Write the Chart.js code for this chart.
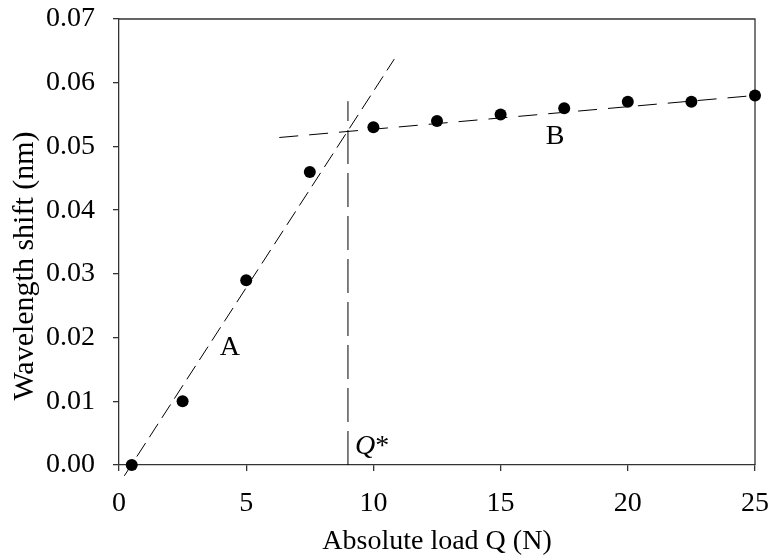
<!DOCTYPE html>
<html><head><meta charset="utf-8">
<script src="https://cdn.jsdelivr.net/npm/chart.js@4/dist/chart.umd.min.js"></script>
<style>html,body{margin:0;padding:0;background:#fff;overflow:hidden}#wrap{width:769px;height:556px}</style>
</head><body><div id="wrap"><canvas id="c" width="769" height="556"></canvas></div>
<script>
// ---- data ----
const loadQ = [0.5, 2.5, 5, 7.5, 10, 12.5, 15, 17.5, 20, 22.5, 25];
const shift = [0.000, 0.010, 0.029, 0.046, 0.053, 0.054, 0.055, 0.056, 0.057, 0.057, 0.058];
const fitA_x = [0.21, 10.82];
const fitA_y = [-0.0017, 0.0637];
const fitB_x = [6.3, 25];
const fitB_y = [0.0514, 0.0580];
const qStar_x = [9, 9];
const qStar_y = [0, 0.0571];
const xTicks = [0, 5, 10, 15, 20, 25];
const yTicks = [0, 0.01, 0.02, 0.03, 0.04, 0.05, 0.06, 0.07];
const xTitle = 'Absolute load Q (N)';
const yTitle = 'Wavelength shift (nm)';

const pts = (xs, ys) => xs.map((x, i) => ({x: x, y: ys[i]}));
const FONT = '"Liberation Serif", "Times New Roman", serif';
const AX = '#333333';
Chart.defaults.font.family = FONT;
Chart.defaults.color = '#000';

const labelPos = {
  A: {x: 4.36, y: 0.01844},
  B: {x: 17.14, y: 0.05156},
  Q: {x: 9.28, y: 0.00173}
};

const framePlugin = {
  id: 'frame',
  beforeDatasetsDraw(chart) {
    const a = chart.chartArea, c = chart.ctx;
    c.save();
    c.strokeStyle = AX; c.lineWidth = 1.3;
    c.beginPath();
    c.moveTo(a.left, a.top); c.lineTo(a.right, a.top); c.lineTo(a.right, a.bottom);
    c.stroke();
    c.restore();
  }
};
const textPlugin = {
  id: 'texts',
  afterDatasetsDraw(chart) {
    const c = chart.ctx, xs = chart.scales.x, ys = chart.scales.y, a = chart.chartArea;
    c.save();
    c.fillStyle = '#000';
    c.font = '28px ' + FONT;
    c.textAlign = 'center'; c.textBaseline = 'middle';
    c.fillText('A', xs.getPixelForValue(labelPos.A.x), ys.getPixelForValue(labelPos.A.y));
    c.fillText('B', xs.getPixelForValue(labelPos.B.x), ys.getPixelForValue(labelPos.B.y));
    c.textAlign = 'left'; c.textBaseline = 'alphabetic';
    const qx = xs.getPixelForValue(labelPos.Q.x), qy = ys.getPixelForValue(labelPos.Q.y);
    c.font = 'italic 28px ' + FONT;
    c.fillText('Q', qx, qy);
    const w = c.measureText('Q').width;
    c.font = '28px ' + FONT;
    c.fillText('*', qx + w, qy);
    // y axis title
    c.translate(33, (a.top + a.bottom) / 2 + 24);
    c.rotate(-Math.PI / 2);
    c.font = '30px ' + FONT;
    c.textAlign = 'center'; c.textBaseline = 'alphabetic';
    c.fillText(yTitle, 0, 0);
    c.restore();
  }
};

new Chart(document.getElementById('c'), {
  type: 'scatter',
  data: {
    datasets: [
      {data: pts(loadQ, shift), pointRadius: 6, pointBackgroundColor: '#000', pointBorderColor: '#000', pointBorderWidth: 0, showLine: false, clip: false},
      {data: pts(fitA_x, fitA_y), showLine: true, pointRadius: 0, borderColor: '#000', borderWidth: 1, borderDash: [16, 7], clip: false},
      {data: pts(fitB_x, fitB_y), showLine: true, pointRadius: 0, borderColor: '#000', borderWidth: 1, borderDash: [19, 11], clip: false},
      {data: pts(qStar_x, qStar_y), showLine: true, pointRadius: 0, borderColor: '#000', borderWidth: 1, borderDash: [34, 9], clip: false}
    ]
  },
  options: {
    responsive: false, animation: false, devicePixelRatio: 1,
    layout: {padding: {left: 0, top: 19, right: 14, bottom: 0}},
    plugins: {legend: {display: false}, tooltip: {enabled: false}},
    scales: {
      x: {
        type: 'linear', min: 0, max: 25,
        afterBuildTicks: s => { s.ticks = xTicks.map(v => ({value: v})); },
        afterFit: s => { s.height = 91; s.paddingLeft = 0; s.paddingRight = 0; },
        ticks: {font: {size: 28}, padding: 16, color: '#000', maxRotation: 0, callback: v => String(v)},
        grid: {display: true, drawOnChartArea: false, drawTicks: true, tickLength: 6, color: AX, lineWidth: 1.3},
        border: {display: true, color: AX, width: 1.3},
        title: {display: true, text: xTitle, font: {size: 28, lineHeight: 1.05}, color: '#000', padding: {top: 0, bottom: 0}}
      },
      y: {
        type: 'linear', min: 0, max: 0.07,
        afterBuildTicks: s => { s.ticks = yTicks.map(v => ({value: v})); },
        afterFit: s => { s.width = 119; s.paddingTop = 0; s.paddingBottom = 0; },
        ticks: {font: {size: 28}, padding: 18, color: '#000', callback: v => Number(v).toFixed(2)},
        grid: {display: true, drawOnChartArea: false, drawTicks: true, tickLength: 6, color: AX, lineWidth: 1.3},
        border: {display: true, color: AX, width: 1.3},
        title: {display: false}
      }
    }
  },
  plugins: [framePlugin, textPlugin]
});
</script></body></html>
